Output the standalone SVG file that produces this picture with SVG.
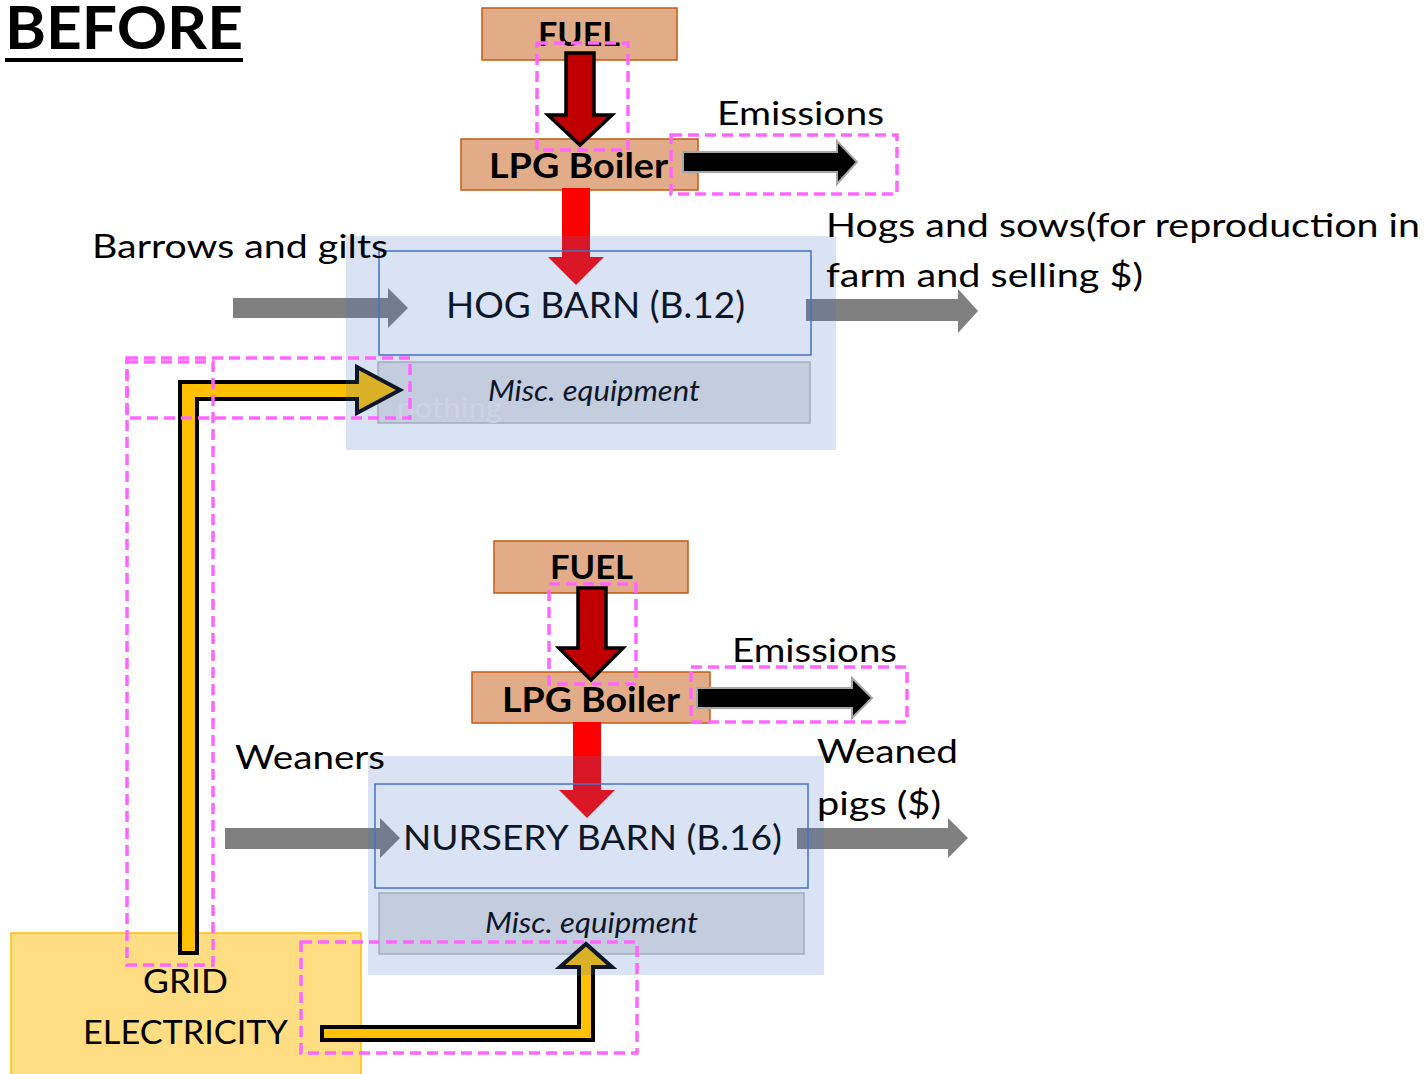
<svg xmlns="http://www.w3.org/2000/svg" width="1427" height="1074" viewBox="0 0 1427 1074">
<style>
text{font-family:Lato,"Open Sans","Liberation Sans",sans-serif;fill:#000}
.b{font-weight:700}
.lbl{font-size:33px}
.fuel{fill:#e3ac88;stroke:#c55a11;stroke-width:1.5}
.misc{fill:#e4e4e4;stroke:#bcbcbc;stroke-width:1.5}
.inner{fill:none;stroke:#4472c4;stroke-width:1.5}
.cont{fill:#4472c4;fill-opacity:0.2}
.gray{fill:#808080}
.dred{fill:#c00000;stroke:#000;stroke-width:3.5;stroke-linejoin:miter}
.red{fill:#ff0000}
.emis{fill:#000;stroke:#a6a6a6;stroke-width:2}
.yel{fill:#ffc000;stroke:#000;stroke-width:4;stroke-linejoin:miter}
.hl{fill:none;stroke:#ff66ff;stroke-width:3.5;stroke-dasharray:11 6}
.mt{font-size:28px;font-style:italic}
.ghost{fill:#ededed}
</style>
<rect width="1427" height="1074" fill="#fff"/>
<g id="title">
<text x="5" y="49" class="b" font-size="60" textLength="238" lengthAdjust="spacingAndGlyphs">BEFORE</text>
<rect x="5" y="58" width="238" height="4" fill="#000"/>
</g>
<g id="grid-electricity">
<rect x="11" y="933" width="350" height="145" fill="#ffde83" stroke="#ffc000" stroke-width="1.5"/>
<text x="143" y="993" font-size="32" textLength="85" lengthAdjust="spacingAndGlyphs">GRID</text>
<text x="83" y="1044" font-size="32" textLength="205" lengthAdjust="spacingAndGlyphs">ELECTRICITY</text>
</g>
<g id="fuel-top">
<rect class="fuel" x="482" y="8" width="195" height="52"/>
<text x="538" y="46" class="b" font-size="32" textLength="82" lengthAdjust="spacingAndGlyphs">FUEL</text>
</g>
<g id="boiler-top">
<rect class="fuel" x="461" y="139" width="237" height="51"/>
<text x="489" y="178" class="b" font-size="35" textLength="179" lengthAdjust="spacingAndGlyphs">LPG Boiler</text>
</g>
<g id="fuel-bottom">
<rect class="fuel" x="494" y="541" width="194" height="52"/>
<text x="550" y="579" class="b" font-size="32" textLength="83" lengthAdjust="spacingAndGlyphs">FUEL</text>
</g>
<g id="boiler-bottom">
<rect class="fuel" x="472" y="672" width="238" height="51"/>
<text x="502" y="712" class="b" font-size="35" textLength="178" lengthAdjust="spacingAndGlyphs">LPG Boiler</text>
</g>
<g id="misc-hog">
<rect class="misc" x="378" y="362" width="432" height="61"/>
<text x="397" y="418" font-size="28" class="ghost" textLength="105" lengthAdjust="spacingAndGlyphs">nothing</text>
<text x="488" y="401" class="mt" textLength="212" lengthAdjust="spacingAndGlyphs">Misc. equipment</text>
</g>
<g id="misc-nursery">
<rect class="misc" x="379" y="893" width="425" height="61"/>
<text x="485" y="933" class="mt" textLength="213" lengthAdjust="spacingAndGlyphs">Misc. equipment</text>
</g>
<g id="connectors">
<polygon class="gray" points="233,298 388,298 388,288 408,308 388,328 388,318 233,318"/>
<polygon class="gray" points="806,299 958,299 958,289 978,311 958,333 958,321 806,321"/>
<polygon class="gray" points="225,828 380,828 380,818 400,838 380,858 380,849 225,849"/>
<polygon class="gray" points="797,828 948,828 948,818 968,838 948,858 948,849 797,849"/>
<polygon class="dred" points="566,53 594,53 594,115 612,115 580,145 548,115 566,115"/>
<polygon class="dred" points="578,588 606,588 606,648 623,648 591,680 559,648 578,648"/>
<polygon class="red" points="562,188 590,188 590,257 604,257 576,285 548,257 562,257"/>
<polygon class="red" points="573,722 601,722 601,790 615,790 587,818 559,790 573,790"/>
<polygon class="emis" points="683,152 837,152 837,141 857,162 837,184 837,172 683,172"/>
<polygon class="emis" points="697,688 852,688 852,678 872,698 852,718 852,708 697,708"/>
<polygon class="yel" points="180,953 180,382 357,382 357,367 400,390 357,413 357,399 197,399 197,953"/>
<polygon class="yel" points="322,1027 579,1027 579,967 560,967 586,944 612,967 593,967 593,1040 322,1040"/>
</g>
<g id="hog-barn">
<rect class="inner" x="379" y="251" width="432" height="104"/>
<text x="446" y="318" font-size="37" textLength="299" lengthAdjust="spacingAndGlyphs">HOG BARN (B.12)</text>
<rect class="cont" x="346" y="236" width="490" height="214"/>
</g>
<g id="nursery-barn">
<rect class="inner" x="375" y="784" width="433" height="104"/>
<text x="403" y="850" font-size="35" textLength="379" lengthAdjust="spacingAndGlyphs">NURSERY BARN (B.16)</text>
<rect class="cont" x="368" y="756" width="456" height="219"/>
</g>
<g id="labels">
<text x="717" y="125" class="lbl" textLength="167" lengthAdjust="spacingAndGlyphs">Emissions</text>
<text x="732" y="662" class="lbl" textLength="165" lengthAdjust="spacingAndGlyphs">Emissions</text>
<text x="92" y="258" class="lbl" textLength="296" lengthAdjust="spacingAndGlyphs">Barrows and gilts</text>
<text x="826" y="237" class="lbl" textLength="594" lengthAdjust="spacingAndGlyphs">Hogs and sows(for reproduction in</text>
<text x="826" y="287" class="lbl" textLength="317" lengthAdjust="spacingAndGlyphs">farm and selling $)</text>
<text x="235" y="769" class="lbl" textLength="150" lengthAdjust="spacingAndGlyphs">Weaners</text>
<text x="817" y="763" class="lbl" textLength="141" lengthAdjust="spacingAndGlyphs">Weaned</text>
<text x="817" y="815" class="lbl" textLength="124" lengthAdjust="spacingAndGlyphs">pigs ($)</text>
</g>
<g id="highlights">
<rect class="hl" x="537" y="43" width="91" height="107"/>
<rect class="hl" x="671" y="135" width="226" height="59"/>
<rect class="hl" x="127" y="358" width="283" height="60"/>
<rect class="hl" x="127" y="362" width="86" height="603"/>
<rect class="hl" x="549" y="584" width="87" height="100"/>
<rect class="hl" x="691" y="667" width="216" height="55"/>
<rect class="hl" x="301" y="942" width="336" height="111"/>
</g>
</svg>
